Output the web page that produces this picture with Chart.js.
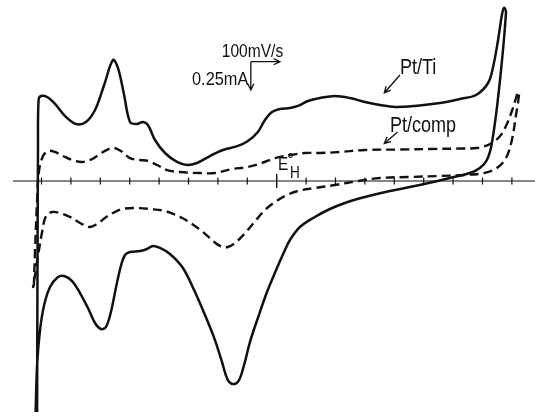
<!DOCTYPE html>
<html>
<head>
<meta charset="utf-8">
<script src="https://cdn.jsdelivr.net/npm/chart.js@4"></script>
<style>
  body { margin: 0; background: #fff; }
  #box { width: 535px; height: 417px; }
</style>
</head>
<body>
<div id="box"><canvas id="cv"></canvas></div>
<script>
// potential E in V (vs E°H), current I in mA
let tiAnodicE = [-0.815, -0.814, -0.812, -0.810, -0.802, -0.781, -0.754, -0.720, -0.683, -0.649, -0.618, -0.587, -0.557, -0.540, -0.519, -0.499, -0.475, -0.455, -0.438, -0.414, -0.380, -0.339, -0.305, -0.271, -0.227, -0.183, -0.132, -0.098, -0.064, -0.040, -0.016, 0.011, 0.045, 0.072, 0.106, 0.147, 0.198, 0.249, 0.300, 0.351, 0.402, 0.470, 0.555, 0.623, 0.678, 0.719, 0.736, 0.753, 0.766, 0.773];
let tiAnodicI = [-2.063, -1.063, 0.277, 0.723, 0.759, 0.750, 0.688, 0.580, 0.509, 0.527, 0.634, 0.857, 1.080, 1.009, 0.768, 0.527, 0.509, 0.527, 0.500, 0.366, 0.250, 0.170, 0.143, 0.161, 0.223, 0.277, 0.313, 0.357, 0.438, 0.545, 0.616, 0.643, 0.652, 0.670, 0.714, 0.741, 0.759, 0.741, 0.705, 0.679, 0.661, 0.670, 0.696, 0.732, 0.768, 0.875, 1.018, 1.259, 1.482, 1.545];
let tiCathodicE = [0.780, 0.756, 0.732, 0.715, 0.691, 0.657, 0.589, 0.487, 0.385, 0.300, 0.232, 0.181, 0.130, 0.079, 0.045, 0.025, -0.002, -0.033, -0.064, -0.091, -0.111, -0.128, -0.145, -0.166, -0.186, -0.210, -0.244, -0.278, -0.319, -0.363, -0.397, -0.421, -0.441, -0.465, -0.499, -0.516, -0.530, -0.547, -0.564, -0.581, -0.598, -0.618, -0.642, -0.669, -0.696, -0.723, -0.744, -0.771, -0.791, -0.805, -0.815, -0.820];
let tiCathodicI = [1.509, 0.813, 0.339, 0.188, 0.116, 0.071, 0.027, -0.036, -0.089, -0.143, -0.196, -0.250, -0.321, -0.411, -0.527, -0.634, -0.795, -0.991, -1.223, -1.438, -1.643, -1.777, -1.813, -1.777, -1.616, -1.420, -1.196, -0.991, -0.777, -0.652, -0.598, -0.580, -0.607, -0.625, -0.634, -0.661, -0.759, -0.955, -1.170, -1.304, -1.321, -1.268, -1.134, -1.000, -0.893, -0.848, -0.857, -0.946, -1.107, -1.330, -1.643, -2.063];

let compAnodicE = [-0.826, -0.822, -0.815, -0.809, -0.795, -0.778, -0.754, -0.727, -0.696, -0.662, -0.628, -0.591, -0.557, -0.530, -0.499, -0.465, -0.438, -0.407, -0.373, -0.329, -0.261, -0.210, -0.152, -0.098, -0.050, -0.006, 0.045, 0.096, 0.147, 0.215, 0.300, 0.419, 0.528, 0.623, 0.681, 0.726, 0.760, 0.783, 0.800, 0.814, 0.821];
let compAnodicI = [-0.938, -0.616, -0.170, 0.080, 0.223, 0.268, 0.259, 0.223, 0.188, 0.170, 0.196, 0.259, 0.295, 0.268, 0.205, 0.188, 0.179, 0.143, 0.098, 0.080, 0.071, 0.071, 0.107, 0.125, 0.161, 0.205, 0.232, 0.250, 0.250, 0.259, 0.277, 0.281, 0.286, 0.290, 0.295, 0.330, 0.402, 0.509, 0.625, 0.741, 0.795];
let compCathodicE = [0.824, 0.814, 0.800, 0.780, 0.749, 0.705, 0.640, 0.555, 0.453, 0.351, 0.277, 0.198, 0.130, 0.072, 0.028, -0.006, -0.040, -0.070, -0.104, -0.138, -0.166, -0.193, -0.220, -0.251, -0.288, -0.329, -0.380, -0.431, -0.482, -0.526, -0.557, -0.584, -0.611, -0.638, -0.669, -0.703, -0.737, -0.764, -0.785, -0.798, -0.812, -0.822, -0.829];
let compCathodicI = [0.768, 0.589, 0.366, 0.205, 0.116, 0.071, 0.054, 0.045, 0.036, 0.027, 0, -0.036, -0.063, -0.089, -0.134, -0.188, -0.259, -0.348, -0.455, -0.545, -0.589, -0.580, -0.527, -0.455, -0.384, -0.321, -0.268, -0.250, -0.241, -0.250, -0.286, -0.330, -0.384, -0.411, -0.375, -0.321, -0.286, -0.277, -0.313, -0.455, -0.670, -0.839, -0.955];

// tick marks on the potential axis, every 0.1 V, E°H at 0
let tickE = [-0.8, -0.7, -0.6, -0.5, -0.4, -0.3, -0.2, -0.1, 0.1, 0.2, 0.3, 0.4, 0.5, 0.6, 0.7, 0.8];
let refE = [0];
let axisE = [-0.897, 0.879];

function pts(es, is) {
    return es.map((e, i) => ({ x: e, y: is[i] }));
}

let notes = {
    id: 'notes',
    afterDatasetsDraw(chart) {
        let ctx = chart.ctx;
        let xs = chart.scales.x, ys = chart.scales.y;
        let px = v => xs.getPixelForValue(v);
        let py = v => ys.getPixelForValue(v);

        function arrow(e1, i1, e2, i2) {
            let x1 = px(e1), y1 = py(i1), x2 = px(e2), y2 = py(i2);
            let a = Math.atan2(y2 - y1, x2 - x1);
            ctx.beginPath();
            ctx.moveTo(x1, y1);
            ctx.lineTo(x2, y2);
            ctx.moveTo(x2 - 7 * Math.cos(a - 0.45), y2 - 7 * Math.sin(a - 0.45));
            ctx.lineTo(x2, y2);
            ctx.lineTo(x2 - 7 * Math.cos(a + 0.45), y2 - 7 * Math.sin(a + 0.45));
            ctx.stroke();
        }

        // squeezed text, the figure's lettering is narrow
        function label(txt, e, i, size, squeeze) {
            ctx.save();
            ctx.translate(px(e), py(i));
            ctx.scale(squeeze, 1);
            ctx.font = size + 'px "Liberation Sans"';
            ctx.fillText(txt, 0, 0);
            ctx.restore();
        }

        ctx.save();
        ctx.fillStyle = '#111';
        ctx.strokeStyle = '#111';
        ctx.lineWidth = 1.3;

        label('100mV/s', -0.187, 1.110, 19, 0.82);
        label('0.25mA', -0.288, 0.857, 19, 0.86);
        arrow(-0.088, 1.065, 0.011, 1.065);
        arrow(-0.088, 1.065, -0.088, 0.8125);

        label('Pt/Ti', 0.419, 0.955, 22, 0.82);
        label('Pt/comp', 0.385, 0.440, 22, 0.82);
        arrow(0.419, 0.946, 0.366, 0.786);
        arrow(0.411, 0.4375, 0.366, 0.335);

        label('E', 0.004, 0.098, 18, 0.85);
        label('°', 0.036, 0.135, 18, 0.9);
        label('H', 0.045, 0.024, 16, 0.85);
        ctx.restore();
    }
};

let ctx = document.getElementById('cv').getContext('2d');
new Chart(ctx, {
    type: 'scatter',
    data: {
        datasets: [
            {
                label: 'axis',
                data: pts(axisE, [0, 0]),
                showLine: true,
                borderColor: '#111',
                borderWidth: 1.2,
                pointRadius: 0
            },
            {
                label: 'ticks',
                data: pts(tickE, tickE.map(() => 0)),
                pointStyle: 'line',
                rotation: 90,
                radius: 3.5,
                borderColor: '#111',
                borderWidth: 1.2
            },
            {
                label: 'E°H',
                data: pts(refE, [0]),
                pointStyle: 'line',
                rotation: 90,
                radius: 7,
                borderColor: '#111',
                borderWidth: 1.4
            },
            {
                label: 'Pt/Ti',
                data: pts(tiAnodicE.concat(tiCathodicE), tiAnodicI.concat(tiCathodicI)),
                showLine: true,
                borderColor: '#111',
                borderWidth: 2.5,
                pointRadius: 0,
                tension: 0.35
            },
            {
                label: 'Pt/comp',
                data: pts(compAnodicE.concat(compCathodicE), compAnodicI.concat(compCathodicI)),
                showLine: true,
                borderColor: '#111',
                borderWidth: 2.4,
                borderDash: [9, 5],
                pointRadius: 0,
                tension: 0.35
            }
        ]
    },
    options: {
        responsive: true,
        maintainAspectRatio: false,
        animation: false,
        layout: { padding: 0, autoPadding: false },
        plugins: {
            legend: { display: false },
            tooltip: { enabled: false }
        },
        scales: {
            x: { type: 'linear', min: -0.9412, max: 0.8786, display: false },
            y: { type: 'linear', min: -2.107, max: 1.616, display: false }
        }
    },
    plugins: [notes]
});
</script>
</body>
</html>
